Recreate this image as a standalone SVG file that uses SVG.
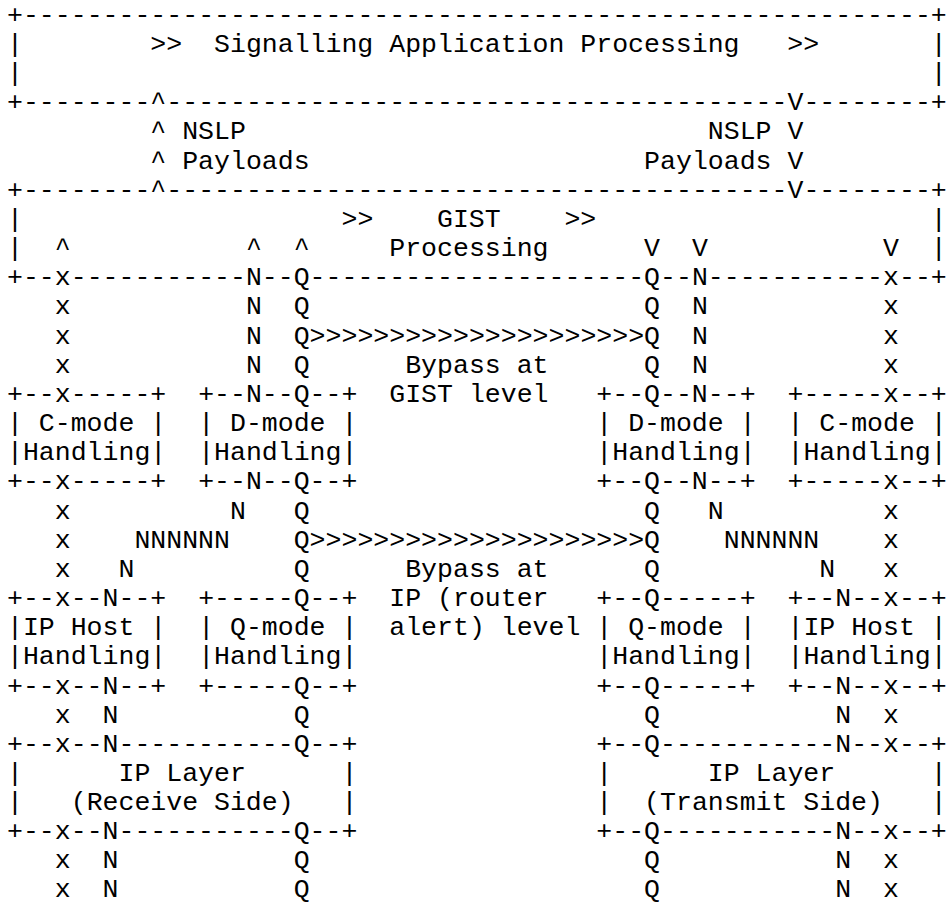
<svg xmlns="http://www.w3.org/2000/svg" width="947" height="906" viewBox="0 0 947 906" xml:space="preserve">
<style>
text{font-family:"Liberation Mono","Courier New",monospace;font-size:26.667px;fill:#000;white-space:pre}
</style>
<rect width="947" height="906" fill="#fff"/>
<g id="diagram" transform="matrix(0.9955 0 0 0.994 0.0315 0)">
<g id="signalling-app">
<text x="7" y="23" textLength="944" lengthAdjust="spacing">+---------------------------------------------------------+</text>
<text x="7" y="52.3">|</text><text x="151" y="52.3">&gt;&gt;  Signalling Application Processing   &gt;&gt;</text><text x="935" y="52.3">|</text>
<text x="7" y="81.7">|</text><text x="935" y="81.7">|</text>
<text x="7" y="111" textLength="944" lengthAdjust="spacing">+--------^---------------------------------------V--------+</text>
</g>
<g id="gist">
<text x="7" y="199" textLength="944" lengthAdjust="spacing">+--------^---------------------------------------V--------+</text>
<text x="7" y="228.3">|</text><text x="343" y="228.3">&gt;&gt;    GIST    &gt;&gt;</text><text x="935" y="228.3">|</text>
<text x="7" y="257.7">|</text><text x="391" y="257.7">Processing</text><text x="935" y="257.7">|</text>
<text x="7" y="287" textLength="944" lengthAdjust="spacing">+--x-----------N--Q---------------------Q--N-----------x--+</text>
</g>
<g id="cmode-left">
<text x="7" y="404.3">+--x-----+</text><text x="7" y="433.7">| C-mode |</text><text x="7" y="463">|Handling|</text><text x="7" y="492.3">+--x-----+</text>
</g>
<g id="dmode-left">
<text x="199" y="404.3">+--N--Q--+</text><text x="199" y="433.7">| D-mode |</text><text x="199" y="463">|Handling|</text><text x="199" y="492.3">+--N--Q--+</text>
</g>
<g id="dmode-right">
<text x="599" y="404.3">+--Q--N--+</text><text x="599" y="433.7">| D-mode |</text><text x="599" y="463">|Handling|</text><text x="599" y="492.3">+--Q--N--+</text>
</g>
<g id="cmode-right">
<text x="791" y="404.3">+-----x--+</text><text x="791" y="433.7">| C-mode |</text><text x="791" y="463">|Handling|</text><text x="791" y="492.3">+-----x--+</text>
</g>
<g id="iphost-left">
<text x="7" y="609.7">+--x--N--+</text><text x="7" y="639">|IP Host |</text><text x="7" y="668.3">|Handling|</text><text x="7" y="697.7">+--x--N--+</text>
</g>
<g id="qmode-left">
<text x="199" y="609.7">+-----Q--+</text><text x="199" y="639">| Q-mode |</text><text x="199" y="668.3">|Handling|</text><text x="199" y="697.7">+-----Q--+</text>
</g>
<g id="qmode-right">
<text x="599" y="609.7">+--Q-----+</text><text x="599" y="639">| Q-mode |</text><text x="599" y="668.3">|Handling|</text><text x="599" y="697.7">+--Q-----+</text>
</g>
<g id="iphost-right">
<text x="791" y="609.7">+--N--x--+</text><text x="791" y="639">|IP Host |</text><text x="791" y="668.3">|Handling|</text><text x="791" y="697.7">+--N--x--+</text>
</g>
<g id="iplayer-receive">
<text x="7" y="756.3" textLength="352" lengthAdjust="spacing">+--x--N-----------Q--+</text>
<text x="7" y="785.7">|</text><text x="119" y="785.7">IP Layer</text><text x="343" y="785.7">|</text>
<text x="7" y="815">|</text><text x="71" y="815">(Receive Side)</text><text x="343" y="815">|</text>
<text x="7" y="844.3" textLength="352" lengthAdjust="spacing">+--x--N-----------Q--+</text>
</g>
<g id="iplayer-transmit">
<text x="599" y="756.3" textLength="352" lengthAdjust="spacing">+--Q-----------N--x--+</text>
<text x="599" y="785.7">|</text><text x="711" y="785.7">IP Layer</text><text x="935" y="785.7">|</text>
<text x="599" y="815">|</text><text x="647" y="815">(Transmit Side)</text><text x="935" y="815">|</text>
<text x="599" y="844.3" textLength="352" lengthAdjust="spacing">+--Q-----------N--x--+</text>
</g>
<g id="connectors">
<text x="151" y="140.3">^</text><text x="183" y="140.3">NSLP</text><text x="711" y="140.3">NSLP</text><text x="791" y="140.3">V</text>
<text x="151" y="169.7">^</text><text x="183" y="169.7">Payloads</text><text x="647" y="169.7">Payloads</text><text x="791" y="169.7">V</text>
<text x="55" y="257.7">^</text><text x="247" y="257.7">^</text><text x="295" y="257.7">^</text><text x="647" y="257.7">V</text><text x="695" y="257.7">V</text><text x="887" y="257.7">V</text>
<text x="55" y="316.3">x</text><text x="247" y="316.3">N</text><text x="295" y="316.3">Q</text><text x="647" y="316.3">Q</text><text x="695" y="316.3">N</text><text x="887" y="316.3">x</text>
<text x="55" y="345.7">x</text><text x="247" y="345.7">N</text><text x="295" y="345.7" textLength="368" lengthAdjust="spacing">Q&gt;&gt;&gt;&gt;&gt;&gt;&gt;&gt;&gt;&gt;&gt;&gt;&gt;&gt;&gt;&gt;&gt;&gt;&gt;&gt;&gt;Q</text><text x="695" y="345.7">N</text><text x="887" y="345.7">x</text>
<text x="55" y="375">x</text><text x="247" y="375">N</text><text x="295" y="375">Q</text><text x="407" y="375">Bypass at</text><text x="647" y="375">Q</text><text x="695" y="375">N</text><text x="887" y="375">x</text>
<text x="391" y="404.3">GIST level</text>
<text x="55" y="521.7">x</text><text x="231" y="521.7">N</text><text x="295" y="521.7">Q</text><text x="647" y="521.7">Q</text><text x="711" y="521.7">N</text><text x="887" y="521.7">x</text>
<text x="55" y="551">x</text><text x="135" y="551">NNNNNN</text><text x="295" y="551" textLength="368" lengthAdjust="spacing">Q&gt;&gt;&gt;&gt;&gt;&gt;&gt;&gt;&gt;&gt;&gt;&gt;&gt;&gt;&gt;&gt;&gt;&gt;&gt;&gt;&gt;Q</text><text x="727" y="551">NNNNNN</text><text x="887" y="551">x</text>
<text x="55" y="580.3">x</text><text x="119" y="580.3">N</text><text x="295" y="580.3">Q</text><text x="407" y="580.3">Bypass at</text><text x="647" y="580.3">Q</text><text x="823" y="580.3">N</text><text x="887" y="580.3">x</text>
<text x="391" y="609.7">IP (router</text>
<text x="391" y="639">alert) level</text>
<text x="55" y="727">x</text><text x="103" y="727">N</text><text x="295" y="727">Q</text><text x="647" y="727">Q</text><text x="839" y="727">N</text><text x="887" y="727">x</text>
<text x="55" y="873.7">x</text><text x="103" y="873.7">N</text><text x="295" y="873.7">Q</text><text x="647" y="873.7">Q</text><text x="839" y="873.7">N</text><text x="887" y="873.7">x</text>
<text x="55" y="902">x</text><text x="103" y="902">N</text><text x="295" y="902">Q</text><text x="647" y="902">Q</text><text x="839" y="902">N</text><text x="887" y="902">x</text>
</g>
</g>
</svg>
